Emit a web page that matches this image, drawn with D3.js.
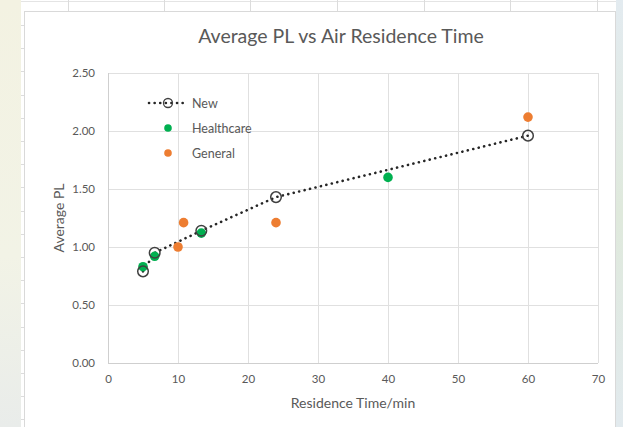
<!DOCTYPE html>
<html>
<head>
<meta charset="utf-8">
<script src="https://cdn.jsdelivr.net/npm/d3@7"></script>
<style>
  html, body { margin: 0; padding: 0; background: #ffffff; }
  svg { display: block; }
  text { font-family: Lato, "Open Sans", sans-serif; fill: #595959; }
</style>
</head>
<body>
<svg id="chart" width="623" height="427"></svg>
<script>
// Residence time (min) and average PL for each series
const newTimes = [5, 6.67, 13.33, 24, 60];
const newPL = [0.79, 0.95, 1.14, 1.43, 1.96];
const healthcareTimes = [5, 6.67, 13.33, 40];
const healthcarePL = [0.83, 0.92, 1.12, 1.60];
const generalTimes = [10, 10.8, 24, 60];
const generalPL = [1.00, 1.21, 1.21, 2.12];

const xTicks = [0, 10, 20, 30, 40, 50, 60, 70];
const yTicks = [0, 0.5, 1.0, 1.5, 2.0, 2.5];
const legendLabels = ["New", "Healthcare", "General"];

const W = 623, H = 427;
const svg = d3.select("#chart");

// page backdrop on both sides of the sheet
const defs = svg.append("defs");
const lg = defs.append("linearGradient").attr("id", "leftBg").attr("x1", 0).attr("y1", 0).attr("x2", 0).attr("y2", 1);
lg.append("stop").attr("offset", "0%").attr("stop-color", "#f3f2e2");
lg.append("stop").attr("offset", "60%").attr("stop-color", "#f2f3e6");
lg.append("stop").attr("offset", "100%").attr("stop-color", "#e9ecea");
const rg = defs.append("linearGradient").attr("id", "rightBg").attr("x1", 0).attr("y1", 0).attr("x2", 0).attr("y2", 1);
rg.append("stop").attr("offset", "0%").attr("stop-color", "#e3ebf0");
rg.append("stop").attr("offset", "50%").attr("stop-color", "#dfe9dc");
rg.append("stop").attr("offset", "100%").attr("stop-color", "#e2eaee");

svg.append("rect").attr("x", 0).attr("y", 0).attr("width", 21).attr("height", H).attr("fill", "url(#leftBg)");
svg.append("rect").attr("x", 616).attr("y", 0).attr("width", W - 616).attr("height", H).attr("fill", "url(#rightBg)");

// worksheet cells peeking around the chart object
const sheet = svg.append("g");
sheet.append("rect").attr("x", 21).attr("y", 0).attr("width", 595).attr("height", H).attr("fill", "#ffffff");
sheet.append("line").attr("x1", 21).attr("x2", 616).attr("y1", 1.5).attr("y2", 1.5).attr("stroke", "#e4e4e4");
[68, 164, 250, 337, 424, 510, 597].forEach(cx => {
  sheet.append("line").attr("x1", cx + 0.5).attr("x2", cx + 0.5).attr("y1", 0).attr("y2", 11).attr("stroke", "#dcdcdc");
});
d3.range(25, H, 23.2).forEach(ry => {
  sheet.append("line").attr("x1", 21).attr("x2", 24).attr("y1", Math.round(ry) + 0.5).attr("y2", Math.round(ry) + 0.5).attr("stroke", "#dcdcdc");
});

// chart object
svg.append("rect").attr("x", 24.5).attr("y", 11.5).attr("width", 591).attr("height", H)
  .attr("fill", "#ffffff").attr("stroke", "#d9d9d9");

const plot = { left: 108, right: 598, top: 73, bottom: 363 };
const x = d3.scaleLinear().domain([0, 70]).range([plot.left, plot.right]);
const y = d3.scaleLinear().domain([0, 2.5]).range([plot.bottom, plot.top]);

// gridlines
const grid = svg.append("g");
grid.selectAll("line.h").data(yTicks).join("line")
  .attr("x1", plot.left).attr("x2", plot.right)
  .attr("y1", d => Math.round(y(d)) + 0.5).attr("y2", d => Math.round(y(d)) + 0.5)
  .attr("stroke", d => d === 0 ? "#cfcfcf" : "#e0e0e0").attr("stroke-width", 1);
grid.selectAll("line.v").data(xTicks).join("line")
  .attr("y1", plot.top).attr("y2", plot.bottom)
  .attr("x1", d => Math.round(x(d)) + 0.5).attr("x2", d => Math.round(x(d)) + 0.5)
  .attr("stroke", d => d === 0 ? "#cfcfcf" : "#e0e0e0").attr("stroke-width", 1);

// axes (labels only; lines come from the grid)
const xAxis = svg.append("g").attr("transform", `translate(0,${plot.bottom})`)
  .call(d3.axisBottom(x).tickValues(xTicks).tickSize(0).tickPadding(12).tickFormat(d3.format("d")));
const yAxis = svg.append("g").attr("transform", `translate(${plot.left},0)`)
  .call(d3.axisLeft(y).tickValues(yTicks).tickSize(0).tickPadding(13).tickFormat(d3.format(".2f")));
[xAxis, yAxis].forEach(a => {
  a.select(".domain").remove();
  a.selectAll("text").style("font-family", "Lato, 'Open Sans', sans-serif").style("font-size", "11.5px").attr("fill", "#666666");
});

// titles
svg.append("text").attr("x", 341).attr("y", 43).attr("text-anchor", "middle")
  .style("font-size", "19.5px").attr("fill", "#595959").text("Average PL vs Air Residence Time");
svg.append("text").attr("x", 353).attr("y", 408).attr("text-anchor", "middle")
  .style("font-size", "14px").attr("fill", "#595959").text("Residence Time/min");
svg.append("text").attr("transform", `translate(64,${(plot.top + plot.bottom) / 2}) rotate(-90)`)
  .attr("text-anchor", "middle").style("font-size", "14px").attr("fill", "#595959").text("Average PL");

// series
const newData = newTimes.map((t, i) => [t, newPL[i]]);
const hcData = healthcareTimes.map((t, i) => [t, healthcarePL[i]]);
const genData = generalTimes.map((t, i) => [t, generalPL[i]]);

const dotted = { stroke: "#262626", width: 2.6, dash: "0.1 5.5" };
svg.append("path").datum(newData)
  .attr("d", d3.line().x(d => x(d[0])).y(d => y(d[1])))
  .attr("fill", "none").attr("stroke", dotted.stroke).attr("stroke-width", dotted.width)
  .attr("stroke-linecap", "round").attr("stroke-dasharray", dotted.dash);

svg.append("g").selectAll("circle").data(genData).join("circle")
  .attr("cx", d => x(d[0])).attr("cy", d => y(d[1])).attr("r", 4.8).attr("fill", "#ed7d31");
svg.append("g").selectAll("circle").data(hcData).join("circle")
  .attr("cx", d => x(d[0])).attr("cy", d => y(d[1])).attr("r", 4.8).attr("fill", "#00b050");
svg.append("g").selectAll("circle").data(newData).join("circle")
  .attr("cx", d => x(d[0])).attr("cy", d => y(d[1])).attr("r", 5.3)
  .attr("fill", "none").attr("stroke", "#404040").attr("stroke-width", 1.5);

// legend
const legend = svg.append("g");
const ly = [103, 128, 153];
legend.append("line").attr("x1", 149).attr("x2", 187).attr("y1", ly[0]).attr("y2", ly[0])
  .attr("stroke", dotted.stroke).attr("stroke-width", dotted.width)
  .attr("stroke-linecap", "round").attr("stroke-dasharray", dotted.dash);
legend.append("circle").attr("cx", 168).attr("cy", ly[0]).attr("r", 4.5)
  .attr("fill", "none").attr("stroke", "#404040").attr("stroke-width", 1.3);
legend.append("circle").attr("cx", 168).attr("cy", ly[1]).attr("r", 3.8).attr("fill", "#00b050");
legend.append("circle").attr("cx", 168).attr("cy", ly[2]).attr("r", 3.8).attr("fill", "#ed7d31");
legend.selectAll("text.lab").data(legendLabels).join("text")
  .attr("x", 192).attr("y", (d, i) => ly[i] + 4.5)
  .style("font-size", "12.5px").attr("fill", "#595959").text(d => d);
</script>
</body>
</html>
